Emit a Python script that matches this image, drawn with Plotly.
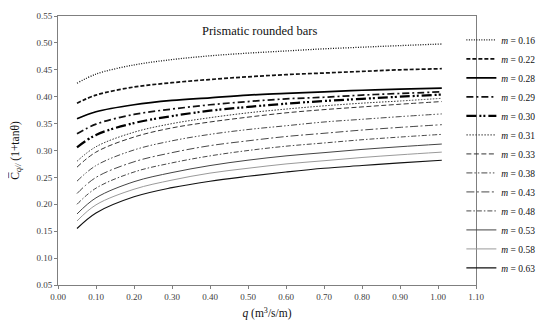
import plotly.graph_objects as go

q = [0.05, 0.10, 0.20, 0.30, 0.40, 0.50, 0.60, 0.70, 0.80, 0.90, 1.01]

m_labels = ["0.16", "0.22", "0.28", "0.29", "0.30", "0.31", "0.33",
            "0.38", "0.43", "0.48", "0.53", "0.58", "0.63"]

c016 = [0.425, 0.442, 0.459, 0.469, 0.476, 0.481, 0.485, 0.489, 0.492, 0.495, 0.498]
c022 = [0.388, 0.403, 0.418, 0.426, 0.432, 0.437, 0.441, 0.444, 0.447, 0.450, 0.452]
c028 = [0.359, 0.372, 0.385, 0.393, 0.398, 0.403, 0.406, 0.409, 0.412, 0.414, 0.416]
c029 = [0.331, 0.349, 0.367, 0.377, 0.385, 0.391, 0.396, 0.399, 0.403, 0.406, 0.409]
c030 = [0.306, 0.329, 0.351, 0.364, 0.374, 0.381, 0.387, 0.392, 0.396, 0.400, 0.404]
c031 = [0.280, 0.307, 0.334, 0.350, 0.361, 0.370, 0.377, 0.383, 0.388, 0.392, 0.397]
c033 = [0.269, 0.297, 0.325, 0.342, 0.353, 0.362, 0.370, 0.376, 0.381, 0.386, 0.391]
c038 = [0.243, 0.272, 0.301, 0.318, 0.330, 0.339, 0.346, 0.353, 0.358, 0.363, 0.368]
c043 = [0.220, 0.250, 0.279, 0.296, 0.309, 0.318, 0.326, 0.332, 0.338, 0.343, 0.348]
c048 = [0.200, 0.230, 0.260, 0.277, 0.290, 0.300, 0.308, 0.314, 0.320, 0.325, 0.330]
c053 = [0.182, 0.212, 0.242, 0.259, 0.272, 0.282, 0.290, 0.296, 0.302, 0.307, 0.312]
c058 = [0.169, 0.199, 0.228, 0.245, 0.258, 0.267, 0.275, 0.281, 0.287, 0.292, 0.297]
c063 = [0.155, 0.184, 0.214, 0.231, 0.243, 0.252, 0.260, 0.267, 0.272, 0.277, 0.282]

series = [c016, c022, c028, c029, c030, c031, c033, c038, c043, c048, c053, c058, c063]

x_ticks = [0.0, 0.1, 0.2, 0.3, 0.4, 0.5, 0.6, 0.7, 0.8, 0.9, 1.0, 1.1]
y_ticks = [0.05, 0.10, 0.15, 0.20, 0.25, 0.30, 0.35, 0.40, 0.45, 0.50, 0.55]

styles = [
    dict(color="#111111", width=1.3, dash="1px,1.5px"),
    dict(color="#111111", width=1.7, dash="4px,2px"),
    dict(color="#000000", width=1.7, dash="solid"),
    dict(color="#111111", width=1.7, dash="7px,3px,2px,3px"),
    dict(color="#000000", width=2.2, dash="10px,3px,2px,2px,2px,3px"),
    dict(color="#333333", width=1.0, dash="1.5px,1.5px"),
    dict(color="#333333", width=1.0, dash="5px,2.5px"),
    dict(color="#333333", width=0.9, dash="6px,2px,1.5px,2px,1.5px,2px"),
    dict(color="#333333", width=0.9, dash="8px,2.5px,2px,2.5px"),
    dict(color="#333333", width=0.9, dash="5px,2px,1.5px,2px"),
    dict(color="#444444", width=1.0, dash="solid"),
    dict(color="#9a9a9a", width=1.0, dash="solid"),
    dict(color="#111111", width=1.1, dash="solid"),
]

FONT = "Liberation Serif, Times New Roman, serif"

fig = go.Figure()
for lab, ys, st in zip(m_labels, series, styles):
    fig.add_trace(go.Scatter(
        x=q, y=ys, mode="lines", name="<i>m</i> = " + lab,
        line=dict(color=st["color"], width=st["width"], dash=st["dash"], shape="spline", smoothing=1.0),
    ))

fig.add_annotation(x=0.53, y=0.522, xref="x", yref="y", text="Prismatic rounded bars",
                   showarrow=False, font=dict(family=FONT, size=12.5, color="#111111"))

axis_common = dict(
    showgrid=False, zeroline=False, showline=True, linecolor="#7f7f7f", linewidth=1,
    mirror=True, ticks="outside", ticklen=3, tickcolor="#7f7f7f",
    tickfont=dict(family=FONT, size=9, color="#404040"),
)

fig.update_xaxes(range=[0, 1.1], tickvals=x_ticks, tickformat=".2f",
                 title=dict(text="<i>q</i> (m<sup>3</sup>/s/m)", font=dict(family=FONT, size=11.5, color="#111111"), standoff=8),
                 **axis_common)
fig.update_yaxes(range=[0.05, 0.55], tickvals=y_ticks, tickformat=".2f",
                 title=dict(text="C\u0305<sub><i>q//</i></sub> (1+tanθ)", font=dict(family=FONT, size=11.5, color="#111111"), standoff=14),
                 **axis_common)

fig.update_layout(
    width=550, height=320,
    margin=dict(l=50, r=82, t=8, b=43, autoexpand=False),
    paper_bgcolor="white", plot_bgcolor="white",
    font=dict(family=FONT, size=10, color="#111111"),
    legend=dict(x=0.965, xanchor="left", y=0.965, yanchor="top",
                font=dict(family=FONT, size=9.5, color="#111111"),
                itemwidth=30, tracegroupgap=0, bgcolor="rgba(0,0,0,0)"),
)

fig.write_html("out.html")
